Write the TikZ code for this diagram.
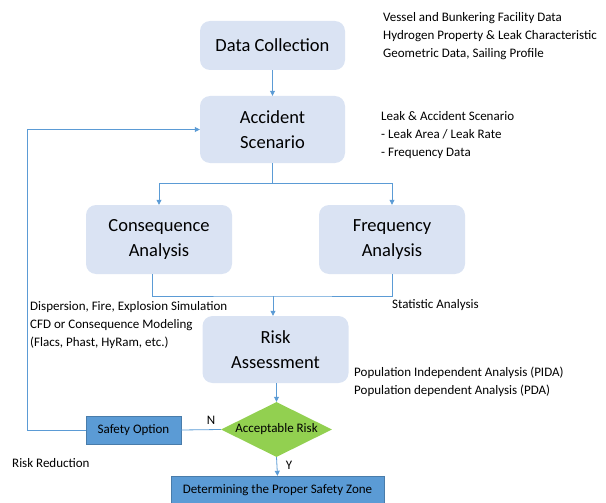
\documentclass[tikz,border=0pt]{standalone}
\usepackage{fontspec}
\setmainfont{Carlito}
\usetikzlibrary{shapes.geometric,arrows.meta}
\definecolor{boxfill}{HTML}{DAE3F3}
\definecolor{linec}{HTML}{5B9BD5}
\definecolor{darkb}{HTML}{5B9BD5}
\definecolor{greenf}{HTML}{92D050}
\tikzset{
  bigbox/.style={rectangle, rounded corners=10pt, fill=boxfill, draw=none, align=center,
     font=\fontsize{18.5}{24.5}\selectfont, inner sep=0pt},
  flatbox/.style={rectangle, fill=darkb, draw=linec!80!black, line width=0.4pt, inner sep=0pt,
     font=\fontsize{13}{15}\selectfont},
  note/.style={anchor=west, align=left, inner sep=0pt, font=\fontsize{13}{18}\selectfont},
  conn/.style={draw=linec, line width=0.8pt},
  arr/.style={conn, -{Triangle[width=5pt,length=5pt]}}
}
\begin{document}
\begin{tikzpicture}[x=1pt,y=-1pt]
\useasboundingbox (0,0) rectangle (606,503);
\node[bigbox, minimum width=145pt, minimum height=49pt] (dc) at (272.5,45.5) {Data Collection};
\node[bigbox, minimum width=145pt, minimum height=67pt] (as) at (272.5,129.5) {Accident\\Scenario};
\node[bigbox, minimum width=146pt, minimum height=69pt] (ca) at (159,239.5) {Consequence\\Analysis};
\node[bigbox, minimum width=146pt, minimum height=69pt] (fa) at (392,239.5) {Frequency\\Analysis};
\node[bigbox, minimum width=146pt, minimum height=67pt] (ra) at (275.5,349.5) {Risk\\Assessment};
\node[diamond, fill=greenf, draw=none, inner sep=0pt, shape aspect=2, minimum width=111pt, minimum height=55pt,
  font=\fontsize{13}{15}\selectfont] (ar) at (276.5,429.5) {Acceptable Risk};
\node[flatbox, minimum width=95pt, minimum height=28pt] (so) at (133.5,430) {Safety Option};
\node[flatbox, minimum width=213pt, minimum height=28pt] (dz) at (277.5,490) {Determining the Proper Safety Zone};

\coordinate (split) at (272.5,183);
\coordinate (merge) at (273,296);
\coordinate (fb) at (27,430);

\draw[arr] (dc) -- (as);
\draw[conn] (as) -- (split);
\draw[arr] (split) -| (ca.north);
\draw[arr] (split) -| (fa.north);
\draw[conn] ([xshift=-7pt]ca.south) |- (merge) -| (fa.south);
\draw[arr] (merge) -- (merge |- ra.north);
\draw[arr] (ra.south -| ar.north) -- (ar.north);
\draw[conn] (ar.west) -- (so.east);
\draw[arr] (so.west) -- (fb) |- (as.west);
\draw[arr] (ar.south) -- (dz.north);

\node[inner sep=0pt, font=\fontsize{13}{15}\selectfont] (nl) at (211,420) {N};
\node[inner sep=0pt, font=\fontsize{13}{15}\selectfont] (yl) at (289,465) {Y};

\node[note] (t1) at (383,36) {Vessel and Bunkering Facility Data\\Hydrogen Property \& Leak Characteristic\\Geometric Data, Sailing Profile};
\node[note] (t2) at (381,135) {Leak \& Accident Scenario\\ - Leak Area / Leak Rate\\ - Frequency Data};
\node[note] (t3) at (30,325) {Dispersion, Fire, Explosion Simulation\\CFD or Consequence Modeling\\(Flacs, Phast, HyRam, etc.)};
\node[note] (t4) at (392,305) {Statistic Analysis};
\node[note] (t5) at (354,382) {Population Independent Analysis (PIDA)\\Population dependent Analysis (PDA)};
\node[note] (t6) at (12,463) {Risk Reduction};
\end{tikzpicture}
\end{document}
